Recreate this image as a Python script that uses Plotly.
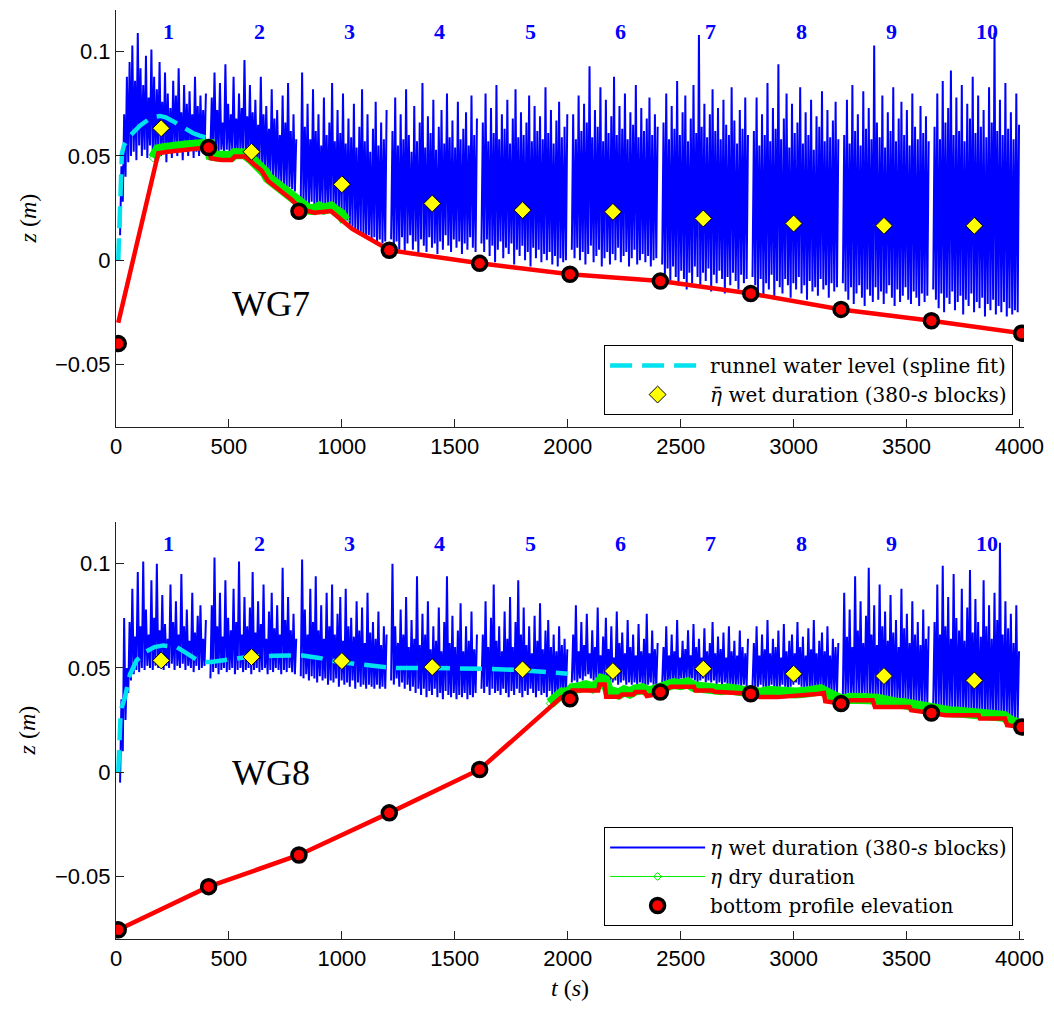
import numpy as np
import plotly.graph_objects as go

# ---------------- data ----------------
block_start = [18, 418, 818, 1218, 1618, 2018, 2418, 2818, 3218, 3618]
block_end = [398, 798, 1198, 1598, 1998, 2398, 2798, 3198, 3598, 3998]
block_labels = ["1", "2", "3", "4", "5", "6", "7", "8", "9", "10"]
block_label_t = [200, 600, 1000, 1400, 1800, 2200, 2600, 3000, 3400, 3800]

# eta wet duration, WG7 (mm, alternating troughs / crests, evenly sampled in block)
wg7_b1 = [12, 45, 28, 70, 40, 88, 47, 95, 50, 103, 52, 86, 48, 109, 55, 92, 50, 84, 53, 98, 49, 78, 55, 101, 51, 88, 48, 82, 54, 95, 50, 76, 53, 90, 47, 80, 52, 73, 49, 86, 55, 79, 50, 92, 53, 71, 48, 84, 52, 75, 50, 81, 54, 70, 49, 88, 52, 74, 50, 79, 53, 72, 51, 80]
wg7_b2 = [53, 78, 52, 90, 54, 72, 52, 85, 53, 66, 52, 94, 53, 75, 52, 70, 53, 88, 52, 68, 51, 80, 52, 73, 51, 96, 52, 69, 50, 84, 49, 71, 48, 77, 47, 65, 46, 88, 45, 70, 43, 74, 42, 63, 41, 82, 40, 68, 39, 72, 38, 60, 37, 79, 36, 66, 35, 85, 35, 62, 34, 70, 33, 58]
wg7_b3 = [28, 90, 27, 64, 28, 75, 27, 58, 28, 82, 26, 62, 27, 70, 26, 55, 27, 78, 26, 60, 25, 66, 26, 85, 25, 57, 24, 72, 23, 61, 22, 80, 20, 56, 19, 68, 17, 59, 16, 75, 15, 54, 14, 64, 13, 82, 12, 57, 11, 70, 12, 52, 10, 63, 11, 76, 9, 55, 10, 66, 8, 58, 9, 72]
wg7_b4 = [10, 62, 6, 78, 9, 55, 5, 70, 11, 58, 4, 82, 8, 60, 12, 52, 5, 74, 9, 57, 3, 66, 10, 85, 7, 54, 4, 69, 11, 61, 6, 77, 8, 53, 3, 64, 9, 72, 5, 56, 12, 80, 7, 59, 4, 67, 10, 54, 6, 76, 9, 58, 3, 63, 8, 71, 5, 55, 11, 79, 6, 60, 4, 68]
wg7_b5 = [8, 66, 4, 80, 10, 57, 2, 73, 7, 61, -1, 84, 5, 58, 9, 70, 1, 63, 6, 77, 3, 56, 8, 68, -2, 82, 5, 59, 2, 71, 7, 60, 0, 66, 4, 79, -3, 57, 6, 74, 1, 62, 5, 69, -1, 58, 3, 83, 0, 61, 4, 72, -2, 56, 2, 67, -3, 76, 1, 59, -1, 64, 0, 70]
wg7_b6 = [5, 70, 1, 58, 6, 79, 0, 62, 4, 75, -2, 66, 3, 93, 7, 59, -1, 72, 2, 64, 5, 83, -3, 57, 1, 77, 4, 61, -2, 69, 3, 88, 0, 60, 6, 74, -1, 63, 2, 80, 4, 58, -3, 71, 1, 65, 5, 84, -2, 59, 0, 73, 3, 62, -1, 68, 2, 78, -3, 60, 0, 70, 1, 64]
wg7_b7 = [-2, 66, -7, 80, -4, 58, -10, 74, -3, 63, -8, 86, -12, 60, -5, 71, -9, 79, -14, 57, -6, 68, -11, 84, -3, 61, -8, 108, -13, 64, -6, 75, -10, 59, -4, 70, -15, 82, -7, 62, -11, 73, -5, 58, -9, 77, -16, 65, -8, 60, -12, 83, -6, 67, -10, 56, -14, 72, -7, 63, -11, 78, -9, 60]
wg7_b8 = [-8, 62, -12, 78, -15, 55, -9, 70, -17, 60, -11, 85, -14, 57, -7, 73, -19, 63, -10, 94, -13, 58, -16, 68, -9, 80, -12, 54, -18, 75, -11, 61, -14, 66, -8, 83, -16, 56, -12, 71, -19, 60, -10, 77, -15, 53, -13, 69, -17, 64, -9, 81, -14, 57, -12, 72, -18, 59, -11, 67, -15, 76, -13, 58]
wg7_b9 = [-11, 60, -15, 77, -19, 56, -13, 84, -21, 62, -16, 70, -12, 55, -18, 81, -22, 63, -14, 73, -17, 58, -20, 103, -13, 66, -19, 59, -15, 79, -21, 54, -16, 71, -12, 62, -18, 83, -22, 57, -14, 68, -20, 76, -17, 60, -13, 72, -19, 55, -21, 80, -15, 64, -18, 58, -22, 74, -16, 61, -20, 69, -17, 57]
wg7_b10 = [-14, 64, -19, 80, -23, 58, -16, 86, -25, 66, -18, 73, -21, 91, -15, 60, -24, 78, -20, 62, -17, 84, -26, 57, -19, 75, -22, 68, -16, 88, -25, 61, -20, 79, -23, 64, -18, 72, -27, 59, -21, 83, -24, 66, -19, 109, -26, 62, -22, 77, -25, 60, -20, 85, -27, 63, -23, 71, -26, 58, -24, 80, -25, 65]

# eta wet duration, WG8 (mm)
wg8_b1 = [-5, 35, 10, 74, 25, 50, 38, 72, 44, 88, 47, 65, 49, 96, 48, 70, 50, 101, 49, 78, 51, 66, 50, 92, 49, 74, 51, 100, 50, 68, 52, 85, 49, 71, 51, 64, 50, 90, 52, 72, 49, 82, 51, 66, 50, 95, 52, 70, 49, 78, 51, 63, 50, 86, 48, 67, 51, 75, 49, 80, 50, 64, 51, 73]
wg8_b2 = [45, 80, 48, 103, 50, 70, 47, 86, 49, 65, 50, 92, 48, 74, 49, 68, 50, 88, 47, 72, 49, 101, 50, 66, 48, 84, 49, 70, 50, 79, 47, 96, 49, 67, 50, 82, 48, 71, 49, 90, 50, 64, 47, 77, 49, 86, 48, 69, 50, 80, 49, 66, 47, 98, 49, 73, 48, 84, 50, 68, 48, 76, 47, 64]
wg8_b3 = [46, 102, 45, 78, 47, 66, 44, 88, 46, 72, 45, 94, 43, 68, 46, 80, 44, 64, 45, 86, 42, 70, 44, 90, 43, 66, 45, 76, 41, 84, 44, 63, 42, 88, 43, 70, 41, 74, 44, 65, 40, 82, 43, 68, 41, 79, 42, 62, 40, 86, 42, 67, 41, 72, 40, 64, 42, 77, 40, 61, 41, 70, 40, 66]
wg8_b4 = [44, 100, 42, 70, 45, 62, 41, 78, 43, 66, 40, 84, 42, 60, 39, 73, 41, 64, 38, 94, 40, 61, 37, 76, 40, 66, 36, 82, 39, 59, 37, 70, 40, 63, 36, 79, 38, 58, 35, 72, 39, 94, 37, 62, 36, 75, 38, 60, 35, 68, 37, 81, 36, 58, 38, 70, 35, 63, 37, 77, 36, 59, 38, 66]
wg8_b5 = [40, 66, 38, 82, 41, 60, 37, 74, 40, 90, 38, 63, 39, 70, 37, 58, 40, 77, 38, 64, 36, 84, 39, 60, 37, 72, 40, 92, 38, 66, 36, 79, 39, 61, 37, 70, 40, 57, 38, 75, 36, 63, 39, 81, 37, 59, 38, 68, 36, 73, 39, 60, 37, 66, 38, 58, 36, 70, 38, 61, 37, 64, 38, 59]
wg8_b6 = [43, 66, 44, 80, 43, 58, 45, 72, 44, 61, 46, 76, 47, 57, 45, 68, 44, 60, 45, 79, 43, 56, 44, 65, 45, 74, 43, 59, 44, 70, 43, 55, 44, 77, 42, 62, 43, 67, 44, 57, 42, 73, 43, 60, 42, 66, 43, 56, 42, 71, 43, 58, 42, 64, 41, 76, 42, 57, 43, 68, 42, 59, 41, 62]
wg8_b7 = [42, 60, 43, 70, 42, 56, 44, 66, 43, 58, 44, 73, 43, 55, 45, 63, 44, 59, 45, 68, 44, 56, 45, 71, 44, 60, 43, 64, 44, 55, 45, 69, 43, 58, 44, 62, 43, 72, 44, 57, 42, 65, 43, 59, 42, 67, 43, 55, 42, 70, 41, 58, 42, 63, 41, 56, 42, 68, 41, 60, 42, 57, 41, 64]
wg8_b8 = [41, 62, 40, 70, 41, 56, 42, 66, 41, 59, 40, 73, 41, 57, 42, 64, 41, 60, 40, 68, 41, 55, 42, 71, 41, 58, 40, 63, 41, 66, 42, 57, 43, 72, 42, 60, 41, 65, 40, 56, 41, 69, 40, 59, 39, 73, 40, 57, 39, 63, 40, 67, 39, 58, 38, 70, 39, 56, 38, 64, 39, 60, 38, 62]
wg8_b9 = [37, 86, 36, 65, 38, 78, 37, 60, 36, 94, 38, 68, 37, 82, 36, 62, 38, 75, 37, 98, 36, 66, 37, 80, 36, 61, 37, 90, 36, 70, 35, 77, 36, 63, 35, 85, 36, 67, 35, 73, 34, 60, 35, 88, 34, 69, 35, 76, 34, 62, 33, 82, 34, 66, 33, 72, 34, 61, 33, 78, 32, 64, 33, 70]
wg8_b10 = [32, 72, 31, 90, 32, 66, 31, 99, 30, 70, 31, 84, 30, 64, 31, 95, 30, 74, 29, 68, 30, 88, 29, 63, 30, 79, 29, 97, 28, 67, 29, 83, 28, 72, 29, 65, 28, 92, 27, 70, 28, 80, 27, 64, 28, 86, 27, 73, 26, 110, 27, 66, 26, 82, 27, 69, 26, 76, 25, 62, 26, 80, 25, 58]

# bottom profile line (m)
wg7_bed_t = [10, 187, 230, 282, 330, 370, 414, 420, 467, 511, 526, 570, 600, 644, 673, 703, 732, 776, 820, 879, 920, 952, 996, 1046, 1210, 1610, 2010, 2410, 2810, 3210, 3610, 4010]
wg7_bed_z = [-0.030, 0.0513, 0.052, 0.0529, 0.0532, 0.0537, 0.054, 0.0489, 0.0481, 0.0481, 0.0497, 0.0497, 0.047, 0.043, 0.038, 0.0353, 0.033, 0.0292, 0.0245, 0.0228, 0.0232, 0.0236, 0.0195, 0.015, 0.0048, -0.0015, -0.0067, -0.010, -0.016, -0.0236, -0.029, -0.035]
wg8_bed_t = [10, 410, 810, 1210, 1610, 1869, 1929, 1972, 2009, 2020, 2135, 2140, 2164, 2170, 2230, 2240, 2290, 2300, 2340, 2350, 2400, 2413, 2456, 2559, 2565, 2640, 2650, 2810, 2850, 2928, 3000, 3104, 3134, 3140, 3214, 3250, 3350, 3360, 3513, 3520, 3611, 3672, 3819, 3825, 3936, 3945, 4010]
wg8_bed_z = [-0.0756, -0.0549, -0.0397, -0.0195, 0.0013, 0.0257, 0.0313, 0.036, 0.0352, 0.0392, 0.0392, 0.042, 0.042, 0.0362, 0.0362, 0.0372, 0.0372, 0.0384, 0.0384, 0.0365, 0.0375, 0.0384, 0.041, 0.041, 0.0392, 0.0392, 0.0386, 0.0376, 0.036, 0.036, 0.0365, 0.0375, 0.038, 0.034, 0.0329, 0.0345, 0.0345, 0.0313, 0.0313, 0.0297, 0.0284, 0.0273, 0.0273, 0.0257, 0.0257, 0.0225, 0.0217]

# eta dry duration (m)
wg7_dry_t = [165, 187, 210, 230, 255, 282, 305, 330, 350, 370, 395, 414, 420, 445, 467, 490, 511, 526, 550, 570, 600, 622, 644, 660, 673, 690, 703, 720, 732, 755, 776, 800, 820, 850, 879, 900, 920, 940, 952, 975, 996, 1015]
wg7_dry_z = [0.049, 0.053, 0.0535, 0.054, 0.0538, 0.0545, 0.0548, 0.055, 0.0555, 0.0553, 0.0556, 0.0555, 0.0505, 0.0500, 0.0495, 0.0500, 0.0498, 0.0512, 0.0515, 0.051, 0.0485, 0.0465, 0.0445, 0.042, 0.0395, 0.038, 0.0368, 0.0355, 0.0345, 0.0325, 0.0305, 0.028, 0.026, 0.0245, 0.0243, 0.0255, 0.0245, 0.0252, 0.0255, 0.0235, 0.022, 0.019]
wg8_dry_t = [1922, 1950, 1975, 2000, 2020, 2050, 2080, 2110, 2135, 2150, 2165, 2180, 2200, 2225, 2250, 2275, 2300, 2330, 2360, 2390, 2413, 2440, 2470, 2500, 2530, 2560, 2590, 2620, 2650, 2680, 2710, 2740, 2770, 2810, 2850, 2890, 2930, 2970, 3010, 3050, 3090, 3120, 3150, 3180, 3214, 3250, 3290, 3330, 3370, 3410, 3450, 3490, 3530, 3570, 3611, 3650, 3690, 3730, 3770, 3810, 3850, 3890, 3930, 3960, 3990, 4010]
wg8_dry_z = [0.033, 0.036, 0.038, 0.038, 0.040, 0.0405, 0.0415, 0.0405, 0.042, 0.0445, 0.044, 0.039, 0.0385, 0.0375, 0.039, 0.038, 0.0395, 0.040, 0.0385, 0.0395, 0.0395, 0.041, 0.0425, 0.042, 0.0428, 0.041, 0.0405, 0.040, 0.0398, 0.0395, 0.040, 0.0392, 0.0390, 0.0388, 0.0378, 0.0388, 0.0382, 0.0378, 0.038, 0.0383, 0.039, 0.0395, 0.0378, 0.036, 0.0345, 0.0355, 0.0358, 0.0352, 0.035, 0.0335, 0.0332, 0.0328, 0.032, 0.031, 0.0298, 0.0292, 0.0290, 0.0288, 0.0285, 0.0282, 0.0272, 0.027, 0.0268, 0.0245, 0.023, 0.0225]

# bottom profile survey points (m)
survey_t = [10, 410, 810, 1210, 1610, 2010, 2410, 2810, 3210, 3610, 4010]
wg7_survey_z = [-0.040, 0.054, 0.0235, 0.0048, -0.0015, -0.0067, -0.010, -0.016, -0.0236, -0.029, -0.035]
wg8_survey_z = [-0.0756, -0.0549, -0.0397, -0.0195, 0.0013, 0.0352, 0.0384, 0.0376, 0.0329, 0.0284, 0.0217]

# block-mean eta (m)
mean_t = [200, 600, 1000, 1400, 1800, 2200, 2600, 3000, 3400, 3800]
wg7_mean = [0.0633, 0.052, 0.0364, 0.0272, 0.024, 0.0232, 0.020, 0.0176, 0.0165, 0.0165]
wg8_mean = [0.0536, 0.0552, 0.0533, 0.0504, 0.0493, 0.0485, 0.0496, 0.0472, 0.0461, 0.044]

# runnel water level spline fit (m)
wg7_spline_t = [10, 13, 16, 20, 26, 35, 50, 76, 106, 140, 170, 195, 220, 250, 300, 340, 370, 400]
wg7_spline_z = [0.0, 0.013, 0.027, 0.043, 0.051, 0.055, 0.058, 0.0612, 0.0645, 0.0672, 0.0688, 0.0692, 0.0685, 0.0668, 0.0635, 0.061, 0.0598, 0.0588]
wg8_spline_t = [10, 14, 20, 25, 40, 62, 91, 135, 170, 209, 240, 268, 310, 356, 400, 422, 500, 598, 700, 797, 826, 900, 988, 1100, 1193, 1222, 1340, 1487, 1634, 1781, 1900, 2002]
wg8_spline_z = [0.0, 0.0187, 0.027, 0.031, 0.036, 0.047, 0.0536, 0.058, 0.0600, 0.0608, 0.0605, 0.060, 0.0572, 0.054, 0.0528, 0.0528, 0.054, 0.0555, 0.0558, 0.056, 0.056, 0.0548, 0.0528, 0.0515, 0.0504, 0.050, 0.050, 0.050, 0.0496, 0.049, 0.048, 0.0472]

x_ticks = [0, 500, 1000, 1500, 2000, 2500, 3000, 3500, 4000]
y_ticks = [-0.05, 0, 0.05, 0.1]
y_tick_labels = ["\u22120.05", "0", "0.05", "0.1"]

# ---------------- styling ----------------
SERIF = "Liberation Serif"
LEGSERIF = "DejaVu Serif"
SANS = "Liberation Sans"
BLUE = "#0000FF"
GREEN = "#00F000"
RED = "#FF0000"
CYAN = "#00E3EE"
YELLOW = "#FFFF00"

wg7_blocks = [wg7_b1, wg7_b2, wg7_b3, wg7_b4, wg7_b5, wg7_b6, wg7_b7, wg7_b8, wg7_b9, wg7_b10]
wg8_blocks = [wg8_b1, wg8_b2, wg8_b3, wg8_b4, wg8_b5, wg8_b6, wg8_b7, wg8_b8, wg8_b9, wg8_b10]


def wet_series(blocks):
    xs, ys = [], []
    for vals, s, e in zip(blocks, block_start, block_end):
        t = np.linspace(s, e, len(vals))
        xs.extend(t.tolist())
        ys.extend([v / 1000.0 for v in vals])
        xs.append(None)
        ys.append(None)
    return xs, ys


fig = go.Figure()

panels = [
    ("x", "y", wg7_blocks, wg7_dry_t, wg7_dry_z, wg7_bed_t, wg7_bed_z, wg7_survey_z,
     wg7_spline_t, wg7_spline_z, wg7_mean, "legend", False),
    ("x2", "y2", wg8_blocks, wg8_dry_t, wg8_dry_z, wg8_bed_t, wg8_bed_z, wg8_survey_z,
     wg8_spline_t, wg8_spline_z, wg8_mean, "legend2", True),
]

for xa, ya, blocks, dt, dz, bt, bz, sz, spt, spz, mz, leg, bottom in panels:
    wx, wy = wet_series(blocks)
    fig.add_trace(go.Scatter(x=wx, y=wy, mode="lines", xaxis=xa, yaxis=ya,
                             line=dict(color=BLUE, width=2.0),
                             name="<i>\u03b7</i> wet duration (380-<i>s</i> blocks)",
                             legend=leg, showlegend=bottom, legendrank=1))
    fig.add_trace(go.Scatter(x=dt, y=dz, mode="lines", xaxis=xa, yaxis=ya,
                             line=dict(color=GREEN, width=11), showlegend=False,
                             hoverinfo="skip"))
    fig.add_trace(go.Scatter(x=dt, y=dz, mode="lines+markers", xaxis=xa, yaxis=ya,
                             line=dict(color=GREEN, width=1),
                             marker=dict(symbol="diamond-open", size=6, color=GREEN),
                             name="<i>\u03b7</i> dry duration",
                             legend=leg, showlegend=bottom, legendrank=2))
    fig.add_trace(go.Scatter(x=bt, y=bz, mode="lines", xaxis=xa, yaxis=ya,
                             line=dict(color=RED, width=4.5), showlegend=False))
    fig.add_trace(go.Scatter(x=spt, y=spz, mode="lines", xaxis=xa, yaxis=ya,
                             line=dict(color=CYAN, width=4.5, dash="22px,10px"),
                             name="runnel water level (spline fit)",
                             legend=leg, showlegend=not bottom, legendrank=1))
    fig.add_trace(go.Scatter(x=mean_t, y=mz, mode="markers", xaxis=xa, yaxis=ya,
                             marker=dict(symbol="diamond", size=13, color=YELLOW,
                                         line=dict(color="black", width=1)),
                             name="<i>\u03b7\u0304</i> wet duration (380-<i>s</i> blocks)",
                             legend=leg, showlegend=not bottom, legendrank=2))
    fig.add_trace(go.Scatter(x=survey_t, y=sz, mode="markers", xaxis=xa, yaxis=ya,
                             marker=dict(symbol="circle", size=14, color=RED,
                                         line=dict(color="black", width=3.5)),
                             name="bottom profile elevation",
                             legend=leg, showlegend=bottom, legendrank=3))
    for lab, lt in zip(block_labels, block_label_t):
        fig.add_annotation(x=lt, y=0.1096, xref=xa, yref=ya, text="<b>" + lab + "</b>",
                           xanchor="left", showarrow=False,
                           font=dict(family=SERIF, size=22, color=BLUE))
    # y-axis title placed like the original (further left than plotly's automatic title)
    fig.add_annotation(x=-0.097, y=0.5, xref="paper", yref=ya + " domain",
                       text="<i>z</i> (<i>m</i>)", textangle=-90, showarrow=False,
                       xanchor="center", yanchor="middle",
                       font=dict(family=SERIF, size=24, color="black"))

fig.add_annotation(x=687, y=-0.021, xref="x", yref="y", text="WG7", showarrow=False,
                   font=dict(family=SERIF, size=36, color="black"))
fig.add_annotation(x=687, y=-0.0005, xref="x2", yref="y2", text="WG8", showarrow=False,
                   font=dict(family=SERIF, size=36, color="black"))

axis_common = dict(showline=True, linecolor="#222222", linewidth=1, mirror=False,
                   ticks="inside", ticklen=8, tickcolor="#222222", showgrid=False,
                   zeroline=False, tickfont=dict(family=SANS, size=22, color="black"))

title_font = dict(family=SERIF, size=24, color="black")

fig.update_layout(
    width=1054, height=1009,
    margin=dict(l=116, r=27, t=10, b=70),
    paper_bgcolor="white", plot_bgcolor="white",
    xaxis=dict(domain=[0, 1], anchor="y", range=[0, 4020], tickvals=x_ticks, **axis_common),
    yaxis=dict(domain=[0.5511, 1], anchor="x", range=[-0.08, 0.12], tickvals=y_ticks,
               ticktext=y_tick_labels, **axis_common),
    xaxis2=dict(domain=[0, 1], anchor="y2", range=[0, 4020], tickvals=x_ticks,
                title=dict(text="<i>t</i> (<i>s</i>)", font=title_font, standoff=8),
                **axis_common),
    yaxis2=dict(domain=[0, 0.4489], anchor="x2", range=[-0.08, 0.12], tickvals=y_ticks,
                ticktext=y_tick_labels, **axis_common),
    legend=dict(x=0.988, y=0.564, xanchor="right", yanchor="bottom", bgcolor="white",
                bordercolor="black", borderwidth=1,
                font=dict(family=LEGSERIF, size=20, color="black"),
                itemwidth=95, tracegroupgap=0),
    legend2=dict(x=0.988, y=0.014, xanchor="right", yanchor="bottom", bgcolor="white",
                 bordercolor="black", borderwidth=1,
                 font=dict(family=LEGSERIF, size=20, color="black"),
                 itemwidth=95, tracegroupgap=0),
    showlegend=True,
)

fig.write_html("out.html", config={"displayModeBar": False},
               post_script="document.body.style.margin='0';")
